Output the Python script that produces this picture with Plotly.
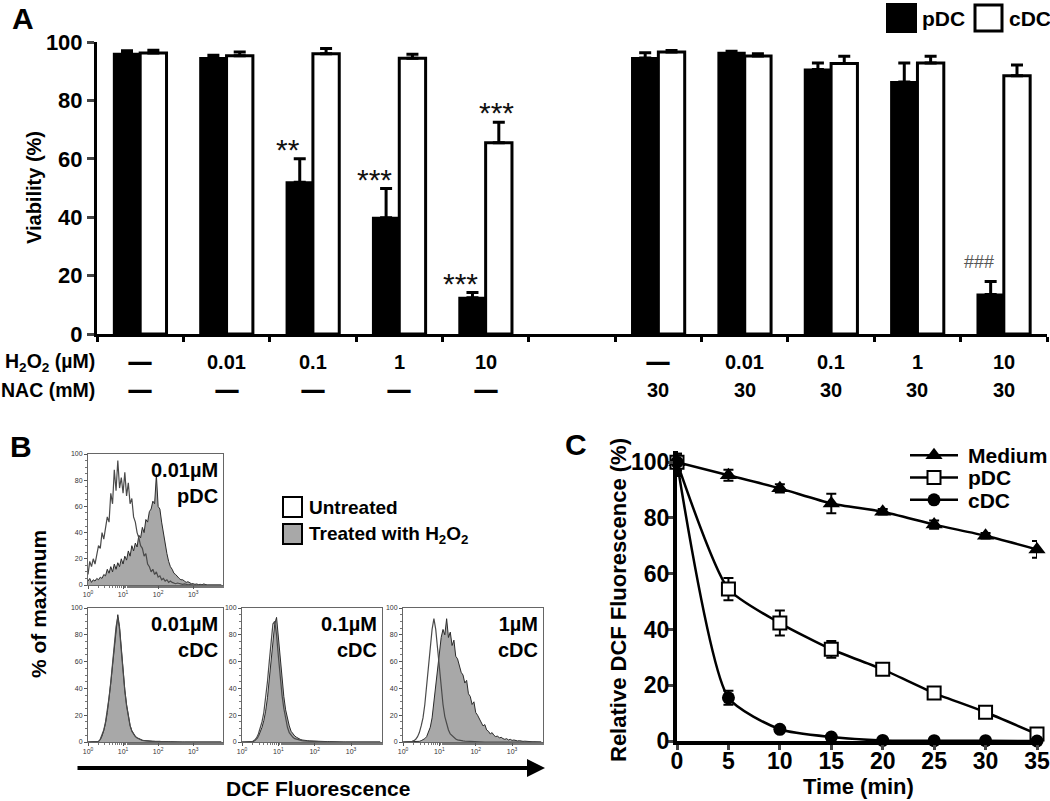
import plotly.graph_objects as go

W, H = 1050, 801
def xf(px): return px / W
def yf(py): return 1 - py / H

FONT = "Liberation Sans, Arial, sans-serif"

# ---------------- Panel A data ----------------
GROUP_IDS = ["g1", "g2", "g3", "g4", "g5", "g6", "g7", "g8", "g9", "g10", "g11"]
H2O2_LABELS = ["—", "0.01", "0.1", "1", "10", "", "—", "0.01", "0.1", "1", "10"]
NAC_LABELS = ["—", "—", "—", "—", "—", "", "30", "30", "30", "30", "30"]
PDC_VIAB = [96.0, 94.5, 52.0, 39.8, 12.4, None, 94.5, 96.3, 90.6, 86.3, 13.5]
PDC_ERR = [1.0, 1.0, 8.0, 10.0, 1.8, 0, 1.8, 0.5, 2.2, 6.5, 4.5]
CDC_VIAB = [96.2, 95.3, 96.0, 94.4, 65.5, None, 96.6, 95.2, 92.6, 92.8, 88.4]
CDC_ERR = [1.0, 1.3, 1.8, 1.4, 7.0, 0, 0.5, 0.8, 2.5, 2.3, 3.7]
PDC_MARKS = ["", "", "**", "***", "***", "", "", "", "", "", "###"]
CDC_MARKS = ["", "", "", "", "***", "", "", "", "", "", ""]

# ---------------- Panel B data (DCF histograms, % of max) ----------------
LOG_BINS = [0.00, 0.05, 0.10, 0.15, 0.20, 0.25, 0.30, 0.35, 0.40, 0.45,
            0.50, 0.55, 0.60, 0.65, 0.70, 0.75, 0.80, 0.85, 0.90, 0.95,
            1.00, 1.05, 1.10, 1.15, 1.20, 1.25, 1.30, 1.35, 1.40, 1.45,
            1.50, 1.55, 1.60, 1.65, 1.70, 1.75, 1.80, 1.85, 1.90, 1.95,
            2.00, 2.05, 2.10, 2.15, 2.20, 2.25, 2.30, 2.35, 2.40, 2.45,
            2.50, 2.55, 2.60, 2.65, 2.70, 2.75, 2.80, 2.85, 2.90, 2.95,
            3.00, 3.05, 3.10, 3.15, 3.20, 3.25, 3.30, 3.35, 3.40, 3.45,
            3.50, 3.55, 3.60, 3.65, 3.70, 3.75, 3.80]

PDC001_UNTREATED = [8, 18, 14, 20, 16, 24, 30, 28, 40, 35,
                    45, 52, 48, 70, 62, 88, 72, 95, 74, 82,
                    70, 86, 68, 78, 62, 66, 52, 48, 40, 36,
                    30, 28, 22, 24, 16, 14, 10, 12, 8, 10,
                    6, 7, 4, 5, 3, 4, 2, 3, 2, 1.5,
                    1, 1.5, 1, 0.5, 0.5, 0.8, 0.3, 0.2, 0.3, 0,
                    0, 0, 0, 0, 0, 0, 0, 0, 0, 0,
                    0, 0, 0, 0, 0, 0, 0]
PDC001_TREATED = [3, 5, 2, 4, 3, 5, 4, 6, 5, 8,
                  7, 12, 9, 14, 10, 16, 12, 17, 14, 20,
                  16, 22, 19, 26, 22, 30, 26, 32, 29, 38,
                  36, 44, 40, 50, 48, 56, 58, 64, 62, 84,
                  60, 58, 48, 40, 30, 24, 18, 14, 12, 9,
                  8, 6, 5, 4, 4, 3, 2, 2.5, 1.5, 1,
                  1, 0.5, 0.8, 0.3, 0.5, 0.2, 0.8, 0.2, 0, 0,
                  0, 0, 0, 0, 0, 0, 0]
CDC001_UNTREATED = [0, 0, 0, 0, 0, 0, 0.5, 2, 5, 9,
                    15, 23, 33, 45, 58, 72, 86, 93, 84, 68,
                    52, 38, 27, 18, 12, 8, 5.5, 4, 3, 2.2,
                    1.6, 1.2, 1, 0.8, 0.6, 0.7, 0.5, 0.5, 0.4, 0.5,
                    0.3, 0.4, 0.3, 0.3, 0.2, 0.3, 0.2, 0.2, 0.1, 0,
                    0, 0, 0, 0, 0, 0, 0, 0, 0, 0,
                    0, 0, 0, 0, 0, 0, 0, 0, 0, 0,
                    0, 0, 0, 0, 0, 0, 0]
CDC001_TREATED = [0, 0, 0, 0, 0, 0, 0.4, 1.8, 4.5, 8.5,
                  14, 22, 32, 44, 57, 70, 84, 95, 86, 70,
                  53, 39, 28, 19, 12.5, 8.5, 6, 4.2, 3.2, 2.4,
                  1.8, 1.3, 1.1, 0.9, 0.7, 0.8, 0.6, 0.5, 0.5, 0.6,
                  0.4, 0.5, 0.3, 0.4, 0.3, 0.3, 0.2, 0.2, 0.1, 0.1,
                  0, 0, 0, 0, 0, 0, 0, 0, 0, 0,
                  0, 0, 0, 0, 0, 0, 0, 0, 0, 0,
                  0, 0, 0, 0, 0, 0, 0]
CDC01_UNTREATED = [0, 0, 0, 0, 0, 0, 0.5, 1.5, 3, 6,
                   10, 15, 22, 32, 45, 60, 76, 88, 90, 80,
                   64, 48, 35, 25, 17, 11, 7, 5, 3.5, 2.5,
                   2, 1.5, 1.2, 1, 0.8, 0.7, 0.6, 0.5, 0.5, 0.4,
                   0.4, 0.3, 0.3, 0.3, 0.2, 0.2, 0.2, 0.1, 0.1, 0,
                   0, 0, 0, 0, 0, 0, 0, 0, 0, 0,
                   0, 0, 0, 0, 0, 0, 0, 0, 0, 0,
                   0, 0, 0, 0, 0, 0, 0]
CDC01_TREATED = [0, 0, 0, 0, 0, 0, 0, 1, 2, 4,
                 7, 11, 16, 23, 33, 46, 62, 72, 88, 93,
                 78, 62, 46, 34, 24, 17, 12, 8, 6, 4.5,
                 3.5, 2.5, 2, 1.5, 1.5, 1, 1, 0.8, 0.7, 0.6,
                 0.6, 0.5, 0.5, 0.4, 0.4, 0.3, 0.4, 0.3, 0.3, 0.2,
                 0.3, 0.2, 0.2, 0.2, 0.1, 0.1, 0, 0, 0, 0,
                 0, 0, 0, 0, 0, 0, 0, 0, 0, 0,
                 0, 0, 0, 0, 0, 0, 0]
CDC1_UNTREATED = [0, 0, 0, 0.2, 0.3, 0.5, 1, 2, 4, 7,
                  12, 18, 28, 42, 56, 70, 84, 92, 84, 70,
                  56, 40, 28, 19, 13, 9, 6, 4.5, 3, 2.2,
                  1.6, 1.2, 1, 0.8, 0.6, 0.5, 0.4, 0.3, 0.3, 0.2,
                  0.2, 0.1, 0.1, 0, 0, 0, 0, 0, 0, 0,
                  0, 0, 0, 0, 0, 0, 0, 0, 0, 0,
                  0, 0, 0, 0, 0, 0, 0, 0, 0, 0,
                  0, 0, 0, 0, 0, 0, 0]
CDC1_TREATED = [0, 0, 0, 0, 0, 0, 0, 0, 0, 0.5,
                1, 1.5, 2.5, 4, 7, 11, 18, 30, 42, 55,
                66, 78, 84, 80, 92, 78, 82, 72, 76, 64,
                62, 56, 52, 50, 44, 46, 36, 34, 28, 30,
                22, 20, 17, 15, 12, 13, 9, 8, 6, 7,
                5, 4, 4.5, 3, 3.5, 2.5, 2, 2.5, 1.5, 2,
                1.2, 1.5, 1, 0.8, 1, 0.6, 0.5, 0.6, 0.4, 0.3,
                0.3, 0.2, 0.2, 0.1, 0.1, 0, 0]

HIST_PANELS = [
    ("0.01µM<br>pDC", PDC001_UNTREATED, PDC001_TREATED),
    ("0.01µM<br>cDC", CDC001_UNTREATED, CDC001_TREATED),
    ("0.1µM<br>cDC", CDC01_UNTREATED, CDC01_TREATED),
    ("1µM<br>cDC", CDC1_UNTREATED, CDC1_TREATED),
]

# ---------------- Panel C data ----------------
TIME_MIN = [0, 5, 10, 15, 20, 25, 30, 35]
MEDIUM = [100, 95.3, 90.6, 85.2, 82.2, 77.6, 73.6, 68.7]
MEDIUM_ERR = [5.0, 2.0, 1.5, 3.5, 1.0, 1.5, 1.0, 3.0]
PDC_DCF = [100, 54.5, 42.3, 32.9, 25.7, 17.2, 10.3, 2.5]
PDC_DCF_ERR = [3.0, 4.0, 4.5, 3.0, 0.8, 0.5, 0.5, 0.5]
CDC_DCF = [100, 15.5, 4.2, 1.4, 0.2, 0.1, 0.1, 0.0]
CDC_DCF_ERR = [3.0, 2.5, 0.6, 0.4, 0, 0, 0, 0]
C_SERIES = ["Medium", "pDC", "cDC"]

fig = go.Figure()

def bold(size, family=FONT):
    return dict(family=family, size=size, color="black", weight="bold")

# ---------- Panel A ----------
fig.add_trace(go.Bar(
    x=GROUP_IDS, y=PDC_VIAB, name="pDC", offsetgroup="p",
    marker=dict(color="black", line=dict(color="black", width=2)),
    error_y=dict(type="data", symmetric=False, array=PDC_ERR,
                 arrayminus=[0] * len(PDC_ERR), color="black", thickness=3, width=6),
    xaxis="x", yaxis="y", showlegend=False))
fig.add_trace(go.Bar(
    x=GROUP_IDS, y=CDC_VIAB, name="cDC", offsetgroup="c",
    marker=dict(color="white", line=dict(color="black", width=3)),
    error_y=dict(type="data", symmetric=False, array=CDC_ERR,
                 arrayminus=[0] * len(CDC_ERR), color="black", thickness=3, width=6),
    xaxis="x", yaxis="y", showlegend=False))

ann = []
for i, g in enumerate(GROUP_IDS):
    if PDC_MARKS[i]:
        is_hash = PDC_MARKS[i].startswith("#")
        if is_hash:
            ann.append(dict(x=g, y=PDC_VIAB[i] + PDC_ERR[i], xref="x", yref="y",
                            text=PDC_MARKS[i], showarrow=False, xshift=-25,
                            yanchor="bottom", yshift=7,
                            font=dict(family=FONT, size=18, color="#555")))
        else:
            ann.append(dict(x=g, y=PDC_VIAB[i] + PDC_ERR[i], xref="x", yref="y",
                            text=PDC_MARKS[i], showarrow=False, xshift=-25,
                            yanchor="bottom", yshift=-9,
                            font=dict(family=FONT, size=30, color="#111")))
    if CDC_MARKS[i]:
        ann.append(dict(x=g, y=CDC_VIAB[i] + CDC_ERR[i], xref="x", yref="y",
                        text=CDC_MARKS[i], showarrow=False, xshift=11,
                        yanchor="bottom", yshift=-9,
                        font=dict(family=FONT, size=30, color="#111")))
    for lab, py in ((H2O2_LABELS[i], 362), (NAC_LABELS[i], 390)):
        is_dash = lab == "—"
        ann.append(dict(x=g, y=yf(py), xref="x", yref="paper", text=lab,
                        showarrow=False, yanchor="middle",
                        font=bold(26, "DejaVu Sans") if is_dash else bold(20)))

ann.append(dict(x=xf(97), y=yf(362), xref="paper", yref="paper",
                text="H<sub>2</sub>O<sub>2</sub> (µM)", showarrow=False,
                xanchor="right", yanchor="middle", font=bold(19.5)))
ann.append(dict(x=xf(97), y=yf(390), xref="paper", yref="paper",
                text="NAC (mM)", showarrow=False,
                xanchor="right", yanchor="middle", font=bold(19.5)))
ann.append(dict(x=xf(34), y=yf(188), xref="paper", yref="paper",
                text="Viability (%)", textangle=-90, showarrow=False,
                xanchor="center", yanchor="middle", font=bold(20)))
# legend A
ann.append(dict(x=xf(920), y=yf(18), xref="paper", yref="paper", text="pDC",
                showarrow=False, xanchor="left", yanchor="middle", font=bold(21)))
ann.append(dict(x=xf(1007), y=yf(18), xref="paper", yref="paper", text="cDC",
                showarrow=False, xanchor="left", yanchor="middle", font=bold(21)))
shapes = [
    dict(type="rect", xref="paper", yref="paper", x0=xf(887), x1=xf(916),
         y0=yf(32), y1=yf(4), fillcolor="black", line=dict(color="black", width=2)),
    dict(type="rect", xref="paper", yref="paper", x0=xf(975), x1=xf(1002),
         y0=yf(31), y1=yf(5), fillcolor="white", line=dict(color="black", width=3)),
]

# panel letters
ann.append(dict(x=xf(10), y=yf(0), xref="paper", yref="paper", text="A",
                showarrow=False, xanchor="left", yanchor="top", font=bold(30)))
ann.append(dict(x=xf(8), y=yf(428), xref="paper", yref="paper", text="B",
                showarrow=False, xanchor="left", yanchor="top", font=bold(30)))
ann.append(dict(x=xf(563), y=yf(426), xref="paper", yref="paper", text="C",
                showarrow=False, xanchor="left", yanchor="top", font=bold(30)))

# ---------- Panel B ----------
hist_boxes = [(88, 223, 454, 585), (88, 223, 608, 742), (242, 382, 608, 742), (403, 543, 608, 742)]
x_vals = [10 ** b for b in LOG_BINS]
layout_axes = {}
for k, ((label, untreated, treated), (x0, x1, y0, y1)) in enumerate(zip(HIST_PANELS, hist_boxes)):
    n = k + 2
    xa, ya = f"x{n}", f"y{n}"
    fig.add_trace(go.Scatter(x=x_vals, y=treated, mode="lines", fill="tozeroy",
                             fillcolor="#a8a8a8", line=dict(color="#2b2b2b", width=1),
                             xaxis=xa, yaxis=ya, showlegend=False))
    fig.add_trace(go.Scatter(x=x_vals, y=untreated, mode="lines",
                             line=dict(color="#4a4a4a", width=1.2),
                             xaxis=xa, yaxis=ya, showlegend=False))
    layout_axes[f"xaxis{n}"] = dict(
        domain=[xf(x0), xf(x1)], anchor=ya, type="log", range=[0, 3.85],
        tickvals=[1, 10, 100, 1000],
        ticktext=["10<sup>0</sup>", "10<sup>1</sup>", "10<sup>2</sup>", "10<sup>3</sup>"],
        tickfont=dict(family=FONT, size=7, color="#333"), ticks="outside", ticklen=3,
        tickcolor="#555", minor=dict(ticks="outside", ticklen=2, tickcolor="#777"),
        showline=True, mirror=True, linecolor="#666", linewidth=1,
        showgrid=False, zeroline=False, automargin=False)
    layout_axes[f"yaxis{n}"] = dict(
        domain=[yf(y1), yf(y0)], anchor=xa, range=[0, 100],
        tickvals=[0, 20, 40, 60, 80, 100],
        tickfont=dict(family=FONT, size=7, color="#333"), ticks="outside", ticklen=3,
        tickcolor="#555", minor=dict(ticks="outside", ticklen=2, dtick=5, tickcolor="#777"),
        showline=True, mirror=True, linecolor="#666", linewidth=1,
        showgrid=False, zeroline=False, automargin=False)
    ann.append(dict(x=xf(x1 - 3), y=yf(y0 + 3), xref="paper", yref="paper",
                    text=label, align="right", showarrow=False,
                    xanchor="right", yanchor="top", font=bold(20)))

# legend B
shapes += [
    dict(type="rect", xref="paper", yref="paper", x0=xf(283), x1=xf(302),
         y0=yf(517), y1=yf(497), fillcolor="white", line=dict(color="black", width=2)),
    dict(type="rect", xref="paper", yref="paper", x0=xf(283), x1=xf(302),
         y0=yf(544), y1=yf(524), fillcolor="#a8a8a8", line=dict(color="black", width=2)),
]
ann.append(dict(x=xf(307), y=yf(507), xref="paper", yref="paper", text="Untreated",
                showarrow=False, xanchor="left", yanchor="middle", font=bold(19)))
ann.append(dict(x=xf(307), y=yf(535), xref="paper", yref="paper",
                text="Treated with H<sub>2</sub>O<sub>2</sub>",
                showarrow=False, xanchor="left", yanchor="middle", font=bold(19)))
ann.append(dict(x=xf(38), y=yf(604), xref="paper", yref="paper", text="% of maximum",
                textangle=-90, showarrow=False, xanchor="center", yanchor="middle",
                font=bold(21)))
ann.append(dict(x=xf(545), y=yf(768), xref="paper", yref="paper", text="",
                showarrow=True, ax=-(545 - 76), ay=0, axref="pixel", ayref="pixel",
                arrowhead=2, arrowsize=0.9, arrowwidth=4, arrowcolor="black"))
ann.append(dict(x=xf(318), y=yf(788), xref="paper", yref="paper", text="DCF Fluorescence",
                showarrow=False, xanchor="center", yanchor="middle", font=bold(21)))

# ---------- Panel C ----------
markers_c = [dict(symbol="triangle-up", size=15, color="black"),
             dict(symbol="square", size=13, color="white", line=dict(color="black", width=2)),
             dict(symbol="circle", size=13, color="black")]
for name, vals, err, mk in zip(C_SERIES, [MEDIUM, PDC_DCF, CDC_DCF],
                               [MEDIUM_ERR, PDC_DCF_ERR, CDC_DCF_ERR], markers_c):
    fig.add_trace(go.Scatter(
        x=TIME_MIN, y=vals, name=name, mode="lines+markers",
        line=dict(color="black", width=2.5, shape="spline", smoothing=0.6),
        marker=mk, cliponaxis=False,
        error_y=dict(type="data", array=err, color="black", thickness=2, width=5),
        xaxis="x6", yaxis="y6", showlegend=False))

# hand-built legend for panel C (key samples on a hidden helper axis)
for row, (name, mk) in enumerate(zip(C_SERIES, markers_c)):
    ry = 2 - row
    fig.add_trace(go.Scatter(x=[0, 1], y=[ry, ry], mode="lines",
                             line=dict(color="black", width=2.5),
                             xaxis="x7", yaxis="y7", showlegend=False, hoverinfo="skip"))
    fig.add_trace(go.Scatter(x=[0.5], y=[ry], mode="markers", marker=mk,
                             xaxis="x7", yaxis="y7", showlegend=False, hoverinfo="skip"))
    ann.append(dict(x=xf(966), y=yf(455 + 22.5 * row), xref="paper", yref="paper",
                    text=name, showarrow=False, xanchor="left", yanchor="middle",
                    font=bold(21)))
layout_axes["xaxis7"] = dict(domain=[xf(910), xf(958)], anchor="y7", range=[0, 1],
                             visible=False, fixedrange=True)
layout_axes["yaxis7"] = dict(domain=[yf(511), yf(444)], anchor="x7", range=[-0.5, 2.5],
                             visible=False, fixedrange=True)

layout_axes["xaxis6"] = dict(
    domain=[xf(677), xf(1037)], anchor="y6", range=[0, 35],
    tickvals=[0, 5, 10, 15, 20, 25, 30, 35], ticks="outside", ticklen=5, tickwidth=3,
    tickfont=bold(23), showline=True, linewidth=4, linecolor="black",
    ticklabelstandoff=-9,
    showgrid=False, zeroline=False, automargin=False)
layout_axes["yaxis6"] = dict(
    domain=[yf(741), yf(451)], anchor="x6", range=[0, 104],
    tickvals=[0, 20, 40, 60, 80, 100], ticks="outside", ticklen=5, tickwidth=3,
    tickfont=bold(23), showline=True, linewidth=4, linecolor="black",
    ticklabelstandoff=-6,
    showgrid=False, zeroline=False, automargin=False)
ann.append(dict(x=xf(618), y=yf(600), xref="paper", yref="paper",
                text="Relative DCF Fluorescence (%)", textangle=-90, showarrow=False,
                xanchor="center", yanchor="middle", font=bold(22)))
ann.append(dict(x=xf(858), y=yf(786), xref="paper", yref="paper",
                text="Time (min)", showarrow=False,
                xanchor="center", yanchor="middle", font=bold(22)))

fig.update_layout(
    width=W, height=H, margin=dict(l=0, r=0, t=0, b=0, autoexpand=False),
    paper_bgcolor="white", plot_bgcolor="rgba(0,0,0,0)",
    barmode="group", bargap=0.39, bargroupgap=0, showlegend=False,
    font=dict(family=FONT, color="black"),
    xaxis=dict(domain=[xf(97), xf(1047)], anchor="y", type="category",
               categoryorder="array", categoryarray=GROUP_IDS,
               range=[-0.5, len(GROUP_IDS) - 0.5],
               tickson="boundaries", ticks="outside", ticklen=5, tickwidth=3,
               tickcolor="black", showticklabels=False, automargin=False,
               showline=True, linewidth=3, linecolor="black", showgrid=False),
    yaxis=dict(domain=[yf(334), yf(42)], anchor="x", range=[0, 100],
               tickvals=[0, 20, 40, 60, 80, 100], ticks="outside", ticklen=7,
               tickwidth=3, tickfont=bold(22), showline=True, linewidth=3,
               linecolor="black", showgrid=False, zeroline=False, automargin=False),
    annotations=ann, shapes=shapes,
    **layout_axes)

PAGE_FIX = ("document.body.style.margin='0';document.body.style.padding='0';"
            "document.body.style.overflow='hidden';"
            "document.documentElement.style.overflow='hidden';")
fig.write_html("out.html", post_script=PAGE_FIX, config={"displayModeBar": False})
